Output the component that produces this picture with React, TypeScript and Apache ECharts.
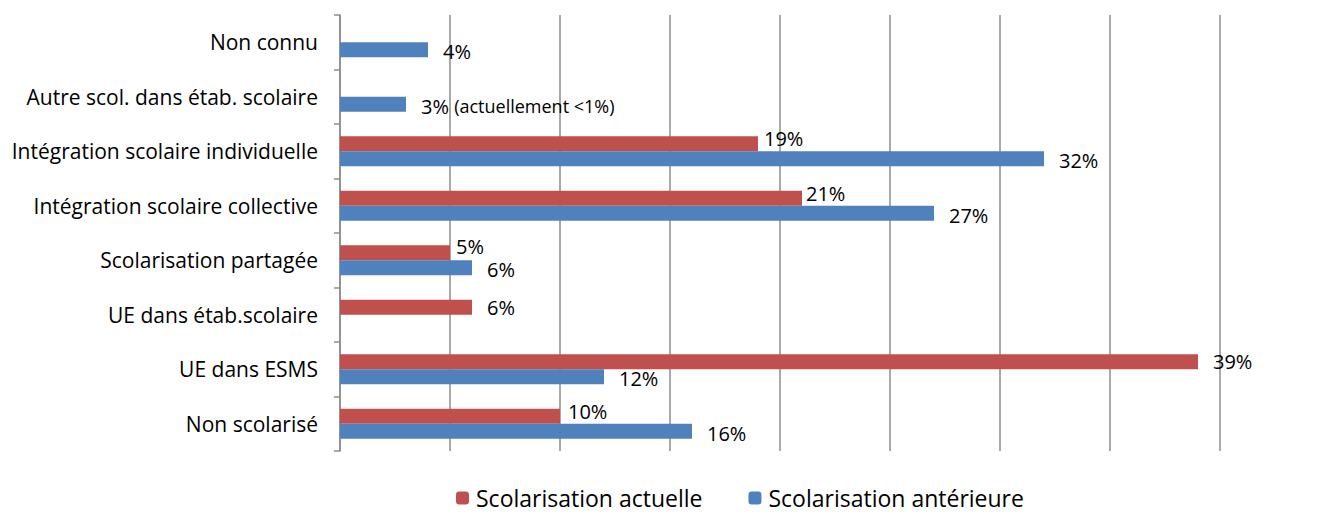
import React, { useEffect, useRef } from "react";
import * as echarts from "echarts";

const categories = [
  "Non scolarisé",
  "UE dans ESMS",
  "UE dans étab.scolaire",
  "Scolarisation partagée",
  "Intégration scolaire collective",
  "Intégration scolaire individuelle",
  "Autre scol. dans étab. scolaire",
  "Non connu",
];
const actuelle: (number | null)[] = [10, 39, 6, 5, 21, 19, null, null];
const anterieure: (number | null)[] = [16, 12, null, 6, 27, 32, 3, 4];
const seriesNames = ["Scolarisation actuelle", "Scolarisation antérieure"];
const noteCategory = "Autre scol. dans étab. scolaire";
const noteText = "(actuellement <1%)";
const xTicks = { min: 0, max: 40, interval: 5 };

const FONT = "'Open Sans', 'Noto Sans', sans-serif";
const RED = "#C0504D";
const BLUE = "#4F81BD";
const GRID = "#8c8c8c";

// per-category label shifts for the red series (visual adjustment, in px)
const redLabelShift: Record<string, [number, number]> = {
  "Non scolarisé": [-7, -5],
  "Scolarisation partagée": [-9, -6],
  "Intégration scolaire collective": [-11, -5],
  "Intégration scolaire individuelle": [-9, -5],
};

export default function App() {
  const ref = useRef<HTMLDivElement>(null);
  useEffect(() => {
    if (!ref.current) return;
    const chart = echarts.init(ref.current, null, { renderer: "svg" });
    const labelBase = {
      show: true,
      position: "right",
      distance: 15,
      fontFamily: FONT,
      fontSize: 20,
      color: "#000",
      formatter: (p: any) => `${p.value}%`,
    };
    const redData = actuelle.map((v, i) => {
      const sh = redLabelShift[categories[i]];
      return sh ? { value: v, label: { offset: sh } } : v;
    });
    const blueData = anterieure.map((v, i) =>
      categories[i] === noteCategory
        ? {
            value: v,
            label: {
              formatter: (p: any) => `${p.value}% {n|${noteText}}`,
              rich: { n: { fontFamily: FONT, fontSize: 18, color: "#000", padding: [0, 0, 0, 0] } },
            },
          }
        : v
    );
    chart.setOption({
      animation: false,
      grid: { left: 340, right: 100, top: 15, bottom: 64, containLabel: false },
      legend: {
        top: 486,
        left: 456,
        itemWidth: 13,
        itemHeight: 13,
        itemGap: 46,
        padding: 0,
        itemStyle: { borderWidth: 0 },
        textStyle: { fontFamily: FONT, fontSize: 23, lineHeight: 24, color: "#000", padding: [0, 0, 0, 2] },
        data: seriesNames,
      },
      xAxis: {
        type: "value",
        min: xTicks.min,
        max: xTicks.max,
        interval: xTicks.interval,
        axisLabel: { show: false },
        axisLine: { show: false },
        axisTick: { show: false },
        splitLine: { show: true, lineStyle: { color: GRID, width: 1.5 } },
      },
      yAxis: {
        type: "category",
        data: categories,
        axisLine: { show: true, lineStyle: { color: GRID, width: 1.5 } },
        axisTick: { show: true, length: 6, lineStyle: { color: GRID, width: 1.5 } },
        axisLabel: { fontFamily: FONT, fontSize: 21, color: "#000", margin: 22 },
      },
      series: [
        {
          name: seriesNames[0],
          type: "bar",
          data: redData,
          barWidth: 15,
          barGap: "0%",
          itemStyle: { color: RED },
          label: labelBase,
        },
        {
          name: seriesNames[1],
          type: "bar",
          data: blueData,
          barWidth: 15,
          barGap: "0%",
          itemStyle: { color: BLUE },
          label: { ...labelBase, offset: [0, 2] },
        },
      ],
    });
    return () => chart.dispose();
  }, []);
  return (
    <div
      ref={ref}
      style={{ position: "absolute", left: 0, top: 0, width: 1320, height: 515, background: "#fff" }}
    />
  );
}
